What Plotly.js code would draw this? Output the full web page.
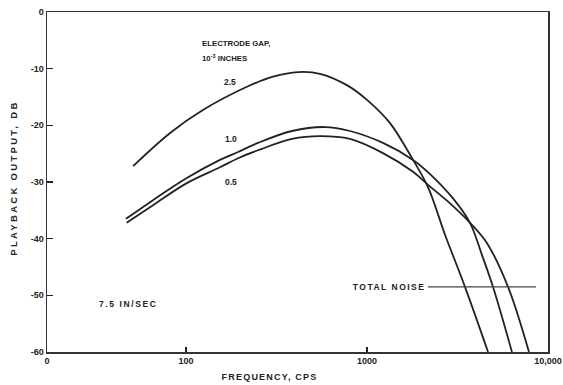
<!DOCTYPE html>
<html><head><meta charset="utf-8">
<script src="https://cdn.plot.ly/plotly-3.0.1.min.js"></script>
<style>
html,body{margin:0;padding:0;background:#fff}#c{width:563px;height:385px}
#c g.annotation[data-index="5"] text{letter-spacing:1.6px}
#c g.annotation[data-index="6"] text{letter-spacing:1.5px}
#c g.annotation[data-index="7"] text{letter-spacing:1.2px}
#c g.annotation[data-index="8"] text{letter-spacing:2.3px}
</style>
</head><body><div id="c"></div>
<script>
// Playback output (dB) vs frequency (cps), by electrode gap (10^-3 in)
const freq25 = [51, 82, 124, 217, 303, 416, 550, 774, 1000, 1340, 1796, 2173, 2698, 3478, 4665];
const db25   = [-27.2, -21.3, -17.3, -13.2, -11.4, -10.6, -10.9, -12.9, -15.5, -19.6, -26.1, -30.9, -39.3, -48.5, -60];
const freq10 = [46.6, 65.7, 101, 154, 194, 250, 385, 586, 805, 1225, 1796, 2230, 2986, 3707, 4318, 4966, 6323];
const db10   = [-36.5, -33.2, -29.3, -26.1, -24.7, -23.1, -21.0, -20.3, -21.0, -23.1, -26.1, -28.6, -32.9, -37.2, -42.9, -48.5, -60];
const freq05 = [47, 65.7, 101, 154, 194, 250, 385, 550, 805, 1225, 1796, 2173, 2766, 3707, 4603, 6013, 7852];
const db05   = [-37.2, -34.1, -30.2, -27.4, -25.8, -24.4, -22.4, -21.9, -22.4, -24.9, -28.2, -30.5, -33.3, -37.2, -40.8, -48.5, -60];
const noiseFreq = [2173, 8590];
const noiseDb = [-48.5, -48.5];
const xTickVals = [17.06, 100, 1000, 10000];
const xTickText = ["0", "100", "1000", "10,000"];
const yTickVals = [0, -10, -20, -30, -40, -50, -60];
const yTickText = ["0", "-10", "-20", "-30", "-40", "-50", "-60"];

const ink = '#222';
const F = 'Liberation Sans, Arial, sans-serif';
const line = {color: ink, width: 1.8, shape: 'spline', smoothing: 1.0};
const traces = [
  {x: freq25, y: db25, mode: 'lines', line: line, hoverinfo: 'skip'},
  {x: freq10, y: db10, mode: 'lines', line: line, hoverinfo: 'skip'},
  {x: freq05, y: db05, mode: 'lines', line: line, hoverinfo: 'skip'},
  {x: noiseFreq, y: noiseDb, mode: 'lines', line: {color: '#444', width: 1.3}, hoverinfo: 'skip'}
];
const tf = {family: F, size: 9, color: ink, weight: 'bold'};
const ann = (x, y, text, xanchor, size) => ({x: Math.log10(x), y: y, text: text, showarrow: false, xanchor: xanchor, yanchor: 'middle', font: {family: F, size: size || 8.5, color: ink, weight: 'bold'}});
const layout = {
  width: 563, height: 385,
  margin: {l: 47, r: 15, t: 12, b: 33},
  paper_bgcolor: '#fff', plot_bgcolor: '#fff',
  showlegend: false,
  xaxis: {type: 'log', range: [Math.log10(17.06), 4], tickvals: xTickVals, ticktext: xTickText,
          ticks: 'inside', ticklen: 5, tickcolor: ink, tickwidth: 1.2, showgrid: false, zeroline: false,
          showline: true, linecolor: '#333', linewidth: 1.5, mirror: true, tickfont: tf},
  yaxis: {range: [-60, 0], tickvals: yTickVals, ticktext: yTickText,
          ticks: 'inside', ticklen: 6, tickcolor: ink, tickwidth: 1.2, showgrid: false, zeroline: false,
          showline: true, linecolor: '#333', linewidth: 1.5, mirror: true, tickfont: tf},
  annotations: [
    ann(119, -5.5, 'ELECTRODE GAP,', 'left', 7.8),
    ann(119, -8.2, '10<sup>-3</sup> INCHES', 'left', 7.8),
    ann(175, -12.4, '2.5', 'center'),
    ann(177, -22.4, '1.0', 'center'),
    ann(177, -30.0, '0.5', 'center'),
    ann(48.1, -51.5, '7.5 IN/SEC', 'center'),
    ann(1324, -48.5, 'TOTAL NOISE', 'center'),
    {xref: 'paper', yref: 'paper', x: (269 - 47) / 501, y: -0.0735, text: 'FREQUENCY, CPS', showarrow: false,
     xanchor: 'center', yanchor: 'middle', font: {family: F, size: 9, color: ink, weight: 'bold'}},
    {xref: 'paper', yref: 'paper', x: -0.066, y: 0.512, text: 'PLAYBACK OUTPUT, DB', showarrow: false, textangle: -90,
     xanchor: 'center', yanchor: 'middle', font: {family: F, size: 9.5, color: ink, weight: 'bold'}}
  ]
};
Plotly.newPlot('c', traces, layout, {displayModeBar: false, staticPlot: true});
</script></body></html>
